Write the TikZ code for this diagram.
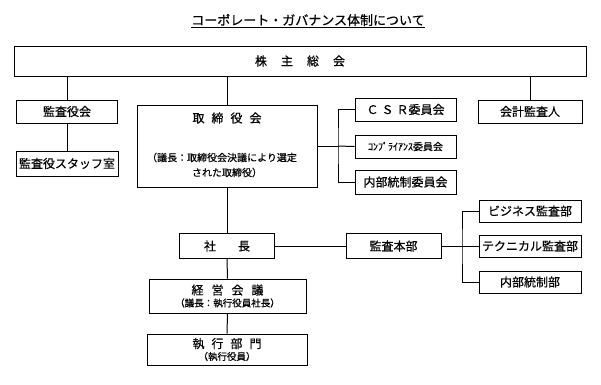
\documentclass[tikz,border=0pt]{standalone}
\usepackage{fontspec}
\setmainfont{Noto Sans CJK JP}[FakeBold=0.5]
\newcommand{\gap}[1]{\hspace{#1}}
\tikzset{
  box/.style={draw, line width=1pt, inner sep=0pt, minimum height=23pt,
    font=\fontsize{12}{14}\selectfont},
  note/.style={inner sep=0pt, font=\fontsize{10}{15}\selectfont, align=center},
  link/.style={line width=1pt}
}
\begin{document}
\begin{tikzpicture}[x=1pt, y=-1pt]
      \useasboundingbox (0,0) rectangle (601,384);
      \node[inner sep=0pt, font=\fontsize{13}{15}\selectfont] (title) at (308,21) {\underline{コーポレート・ガバナンス体制について}};
      \node[box, minimum width=572, minimum height=30] (kabu) at (300,61) {株\gap{14pt}主\gap{14pt}総\gap{14pt}会};
      \node[box, minimum width=101] (kansa) at (67,111.5) {監査役会};
      \node[box, minimum width=102, minimum height=25] (staff) at (67,163.5) {監査役スタッフ室};
      \node[box, minimum width=180, minimum height=82] (tori) at (227,146) {};
      \node[inner sep=0pt, font=\fontsize{12}{14}\selectfont] (torititle) at (227,118) {取\gap{7pt}締\gap{7pt}役\gap{7pt}会};
      \node[note] (torinote) at (222,165) {（議長：取締役会決議により選定\\\gap{10pt}された取締役）};
      \node[box, minimum width=101] (csr) at (405.5,109.5) {Ｃ\gap{3pt}Ｓ\gap{3pt}Ｒ委員会};
      \node[box, minimum width=101] (comp) at (405.5,146.5) {\fontsize{10}{12}\selectfont ｺﾝﾌﾟﾗｲｱﾝｽ委員会};
      \node[box, minimum width=101, minimum height=24] (naibu) at (405.5,182) {内部統制委員会};
      \node[box, minimum width=104] (kaikei) at (530,111.5) {会計監査人};
      \node[box, minimum width=95, minimum height=25] (shacho) at (227,246) {社\gap{22pt}長};
      \node[box, minimum width=95, minimum height=25] (honbu) at (393.5,246) {監査本部};
      \node[box, minimum width=102, minimum height=22] (biz) at (530,211) {ビジネス監査部};
      \node[box, minimum width=102, minimum height=22] (tech) at (530,246) {テクニカル監査部};
      \node[box, minimum width=102, minimum height=22] (naibubu) at (530,282) {内部統制部};
      \node[box, minimum width=157, minimum height=34, align=center] (keiei) at (227.5,296) {経\gap{8pt}営\gap{8pt}会\gap{8pt}議\\[-2pt]{\fontsize{9.5}{12}\selectfont （議長：執行役員社長）}};
      \node[box, minimum width=160, minimum height=31, align=center] (shikko) at (227,349.5) {執\gap{7pt}行\gap{7pt}部\gap{7pt}門\\[-2pt]{\fontsize{9.5}{12}\selectfont （執行役員）}};
      \coordinate (b1) at (338,146);
      \coordinate (b2) at (462,246);
      \draw[link] (kabu.south -| kansa.north) -- (kansa.north);
      \draw[link] (kabu.south -| tori.north) -- (tori.north);
      \draw[link] (kabu.south -| kaikei.north) -- (kaikei.north);
      \draw[link] (kansa.south) -- (staff.north);
      \draw[link] (tori.east) -- (b1);
      \draw[link] (csr.west) -| (b1) |- (naibu.west);
      \draw[link] (b1) -- (comp.west);
      \draw[link] (tori.south) -- (shacho.north);
      \draw[link] (shacho.east) -- (honbu.west);
      \draw[link] (honbu.east) -- (b2);
      \draw[link] (biz.west) -| (b2) |- (naibubu.west);
      \draw[link] (b2) -- (tech.west);
      \draw[link] (shacho.south) -- (keiei.north);
      \draw[link] (keiei.south) -- (shikko.north);
    \end{tikzpicture}
\end{document}
